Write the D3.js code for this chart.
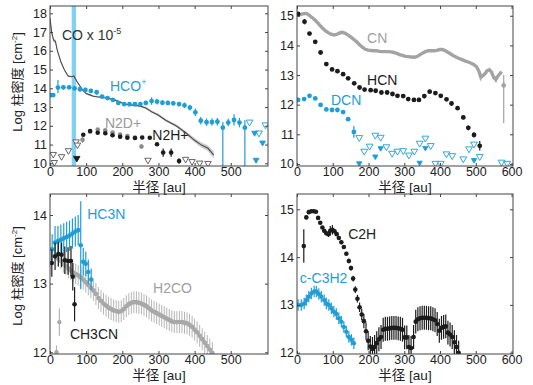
<!DOCTYPE html>
<html>
<head>
<meta charset="utf-8">
<script src="https://cdn.jsdelivr.net/npm/d3@7"></script>
<style>
  body { margin: 0; background: #fff; }
  svg { font-family: "Liberation Sans", Arial, "Noto Sans CJK JP", sans-serif; }
</style>
</head>
<body>
<svg id="chart" width="533" height="385"></svg>
<script>
// ---- data (radius in au, log column density) ----
const coR = [0, 5, 10, 15, 20, 30, 40, 50, 60, 66, 75, 90, 100, 110, 120, 130, 150, 160, 170, 180, 190, 200, 210, 230, 250, 265, 281, 299, 320, 350, 377, 399, 419, 437, 453];
const coV = [17.73, 16.95, 16.57, 16.5, 16.04, 15.42, 14.98, 14.66, 14.62, 14.66, 14.35, 13.91, 13.72, 13.65, 13.58, 13.55, 13.5, 13.48, 13.42, 13.37, 13.3, 13.22, 13.15, 13.1, 13.05, 12.95, 12.75, 12.58, 12.3, 11.99, 11.6, 11.24, 10.97, 10.8, 10.44];
const coErr = [0.12, 0.12, 0.1, 0.1, 0.08, 0.06, 0.05, 0.05, 0.05, 0.05, 0.05, 0.05, 0.05, 0.05, 0.05, 0.05, 0.05, 0.05, 0.05, 0.05, 0.05, 0.05, 0.05, 0.05, 0.05, 0.06, 0.06, 0.07, 0.07, 0.08, 0.1, 0.12, 0.14, 0.16, 0.2];
const coBand = [60, 72];

const hcoR = [4, 9, 22, 37, 53, 68, 83, 98, 113, 129, 144, 159, 174, 189, 205, 220, 235, 250, 265, 281, 296, 311, 326, 341, 357, 372, 387, 402, 417, 433, 448, 463, 478, 493, 509, 524, 539];
const hcoV = [13.64, 13.64, 14.04, 14.05, 14.05, 14.0, 13.95, 13.91, 13.86, 13.79, 13.56, 13.48, 13.38, 13.22, 13.16, 13.15, 13.15, 13.16, 13.22, 13.32, 13.29, 13.23, 13.22, 13.2, 13.16, 13.09, 12.97, 12.72, 12.27, 12.19, 12.2, 12.22, 11.9, 12.17, 12.31, 12.17, 11.9];
const hcoLo = [0.06, 0.06, 0.3, 0.12, 0.1, 0.12, 0.12, 0.12, 0.12, 0.12, 0.1, 0.1, 0.1, 0.08, 0.08, 0.08, 0.08, 0.1, 0.12, 0.2, 0.15, 0.12, 0.12, 0.12, 0.12, 0.15, 0.15, 0.2, 0.2, 0.2, 0.2, 0.2, 3, 0.2, 0.3, 0.25, 3];
const hcoHi = [0.06, 0.06, 0.4, 0.12, 0.1, 0.12, 0.12, 0.12, 0.12, 0.12, 0.1, 0.1, 0.1, 0.08, 0.08, 0.08, 0.08, 0.1, 0.12, 0.2, 0.15, 0.12, 0.12, 0.12, 0.12, 0.15, 0.15, 0.2, 0.2, 0.2, 0.2, 0.2, 0.3, 0.2, 0.3, 0.25, 0.4];
const hcoLimOpenR = [552, 578, 596];
const hcoLimOpenV = [12.2, 11.62, 12.05];
const hcoLimFillR = [566, 588, 570];
const hcoLimFillV = [11.62, 11.1, 10.18];

const n2dR = [90, 111, 132, 153, 173, 194, 214, 235, 253];
const n2dV = [11.25, 11.68, 11.8, 11.76, 11.64, 11.54, 11.46, 11.38, 10.9];
const n2dErr = [0.15, 0.05, 0.05, 0.05, 0.05, 0.05, 0.05, 0.05, 0.12];
const n2hR = [92, 111, 132, 153, 173, 194, 214, 235, 255, 276, 296, 313, 335, 357];
const n2hV = [11.52, 11.72, 11.63, 11.6, 11.5, 11.42, 11.36, 11.35, 11.38, 11.36, 11.02, 10.57, 10.57, 10.12];
const n2hErr = [0.05, 0.05, 0.05, 0.05, 0.05, 0.05, 0.05, 0.05, 0.05, 0.05, 0.05, 0.22, 0.22, 0.15];
const n2hLimR = [9, 12, 32, 51, 72, 76, 271, 375, 393, 414, 437];
const n2hLimV = [10.48, 10.05, 10.36, 10.68, 11.15, 10.98, 10.17, 10.22, 10.1, 10.02, 10.0];
const n2hLimFillR = [74];
const n2hLimFillV = [10.27];

const cnR = [3, 10, 18, 26, 33, 40, 47, 55, 63, 71, 79, 87, 95, 103, 111, 119, 127, 135, 143, 151, 159, 167, 175, 183, 191, 199, 207, 215, 223, 231, 239, 247, 255, 263, 271, 279, 287, 295, 303, 311, 319, 327, 335, 343, 351, 359, 367, 375, 383, 391, 399, 407, 415, 423, 431, 439, 447, 455, 463, 471, 479, 487, 495, 502, 508, 514, 520, 526, 532, 538, 544, 550, 556, 562, 568, 572];
const cnV = [15.02, 15.05, 15.07, 15.08, 15.03, 14.96, 14.89, 14.8, 14.69, 14.59, 14.5, 14.43, 14.38, 14.35, 14.37, 14.42, 14.44, 14.41, 14.35, 14.28, 14.2, 14.12, 14.02, 13.94, 13.87, 13.84, 13.83, 13.82, 13.82, 13.8, 13.79, 13.79, 13.79, 13.78, 13.76, 13.73, 13.69, 13.66, 13.63, 13.62, 13.61, 13.6, 13.62, 13.68, 13.74, 13.79, 13.82, 13.82, 13.82, 13.83, 13.86, 13.86, 13.82, 13.76, 13.7, 13.64, 13.59, 13.55, 13.51, 13.47, 13.44, 13.4, 13.35, 13.28, 13.15, 12.93, 12.98, 13.05, 13.15, 13.18, 13.1, 12.92, 12.85, 12.97, 13.05, 13.12];
const cnLastR = [578];
const cnLastV = [12.65];

const hcnR = [3, 21, 35, 51, 66, 82, 98, 113, 129, 143, 160, 175, 189, 206, 220, 236, 252, 267, 281, 297, 311, 327, 341, 356, 371, 387, 402, 418, 432, 449, 465, 479, 495, 511];
const hcnV = [15.06, 14.8, 14.4, 14.12, 13.76, 13.37, 13.19, 13.13, 13.03, 12.89, 12.72, 12.58, 12.51, 12.49, 12.47, 12.41, 12.41, 12.36, 12.3, 12.29, 12.19, 12.16, 12.16, 12.29, 12.44, 12.39, 12.3, 12.18, 12.04, 11.88, 11.57, 11.22, 10.98, 10.61];
const hcnErr = [0.07, 0.09, 0.03, 0.03, 0.03, 0.03, 0.03, 0.03, 0.03, 0.03, 0.03, 0.04, 0.05, 0.05, 0.05, 0.06, 0.06, 0.06, 0.06, 0.06, 0.06, 0.07, 0.07, 0.07, 0.05, 0.04, 0.04, 0.04, 0.04, 0.05, 0.06, 0.08, 0.09, 0.16];

const dcnR = [3, 20, 35, 51, 66, 82, 98, 113, 129, 143, 159];
const dcnV = [12.16, 12.19, 12.3, 12.21, 11.99, 11.84, 11.82, 11.82, 11.75, 11.51, 11.08];
const dcnErr = [0.04, 0.03, 0.03, 0.03, 0.03, 0.03, 0.03, 0.03, 0.03, 0.04, 0.2];
const dcnLimR = [174, 188, 203, 219, 234, 250, 266, 281, 297, 313, 328, 343, 359, 374, 387, 402, 418, 434, 465, 481, 495, 511, 572, 588];
const dcnLimV = [10.89, 10.43, 10.6, 10.97, 10.9, 10.58, 10.36, 10.43, 10.45, 10.3, 10.43, 10.7, 10.87, 10.62, 10.02, 10.02, 10.34, 10.28, 10.17, 10.51, 10.67, 10.25, 10.06, 10.02];
const dcnLimFillR = [174, 219, 234, 343, 359, 495];
const dcnLimFillV = [10.02, 10.25, 10.53, 10.04, 10.54, 10.13];

const hc3nR = [6, 14, 22, 30, 38, 46, 54, 62, 70, 78, 85, 92, 99, 106, 114];
const hc3nV = [13.5, 13.6, 13.62, 13.64, 13.66, 13.68, 13.7, 13.73, 13.76, 13.78, 13.56, 13.32, 13.29, 13.17, 13.06];
const hc3nErr = [0.22, 0.24, 0.22, 0.22, 0.22, 0.22, 0.22, 0.22, 0.22, 0.22, 0.64, 0.2, 0.18, 0.18, 0.16];

const ch3cnR = [5, 14, 23, 32, 41, 50, 58, 63, 68];
const ch3cnV = [13.3, 13.4, 13.43, 13.42, 13.34, 13.33, 13.33, 13.1, 12.7];
const ch3cnErr = [0.2, 0.2, 0.18, 0.18, 0.2, 0.2, 0.22, 0.2, 0.25];

const h2coLowR = [18, 26];
const h2coLowV = [12.0, 12.44];
const h2coLowErr = [0.1, 0.2];
const h2coR = [23, 30, 37, 44, 51, 58, 64, 71, 78, 85, 92, 99, 106, 113, 120, 127, 134, 141, 148, 155, 162, 169, 176, 183, 190, 197, 204, 211, 218, 225, 232, 239, 246, 253, 260, 267, 274, 281, 288, 295, 302, 309, 316, 323, 330, 337, 344, 351, 358, 365, 372, 379, 386, 393, 400, 407, 414, 421, 428, 435, 442, 449];
const h2coV = [13.36, 13.33, 13.29, 13.26, 13.22, 13.19, 13.16, 13.14, 13.12, 13.09, 13.06, 13.02, 12.98, 12.94, 12.9, 12.85, 12.79, 12.75, 12.71, 12.68, 12.65, 12.63, 12.61, 12.6, 12.59, 12.6, 12.63, 12.67, 12.7, 12.72, 12.73, 12.73, 12.72, 12.71, 12.69, 12.67, 12.64, 12.61, 12.59, 12.57, 12.55, 12.53, 12.51, 12.49, 12.47, 12.45, 12.44, 12.44, 12.44, 12.44, 12.43, 12.42, 12.4, 12.37, 12.33, 12.29, 12.24, 12.19, 12.14, 12.09, 12.04, 11.99];
const h2coErr = [0.12, 0.12, 0.13, 0.13, 0.14, 0.14, 0.14, 0.15, 0.15, 0.15, 0.15, 0.15, 0.15, 0.15, 0.15, 0.16, 0.16, 0.16, 0.16, 0.16, 0.16, 0.16, 0.16, 0.16, 0.16, 0.16, 0.16, 0.16, 0.16, 0.16, 0.16, 0.16, 0.16, 0.16, 0.16, 0.16, 0.16, 0.16, 0.16, 0.16, 0.16, 0.16, 0.16, 0.16, 0.16, 0.16, 0.16, 0.16, 0.16, 0.16, 0.16, 0.16, 0.16, 0.16, 0.16, 0.16, 0.16, 0.16, 0.16, 0.16, 0.16, 0.16];

const c2hR = [19, 26, 33, 40, 47, 53, 59, 65, 71, 76, 82, 88, 93, 99, 105, 111, 117, 124, 131, 138, 145, 151, 157, 163, 169, 175, 181, 187, 193, 199, 205, 211, 217, 223, 229, 235, 241, 247, 253, 259, 265, 271, 277, 283, 289, 295, 301, 307, 313, 319, 326, 332, 338, 344, 350, 356, 362, 368, 374, 380, 386, 392, 398, 404, 410, 416, 422, 428, 434, 440, 446, 452];
const c2hV = [14.23, 14.83, 14.94, 14.96, 14.96, 14.95, 14.82, 14.72, 14.62, 14.55, 14.5, 14.48, 14.55, 14.57, 14.54, 14.48, 14.4, 14.31, 14.21, 14.07, 13.92, 13.77, 13.55, 13.32, 13.13, 12.95, 12.8, 12.66, 12.45, 12.25, 12.13, 12.08, 12.12, 12.2, 12.28, 12.33, 12.48, 12.5, 12.5, 12.51, 12.52, 12.52, 12.52, 12.51, 12.5, 12.48, 12.32, 12.32, 12.12, 12.1, 12.33, 12.65, 12.7, 12.72, 12.73, 12.73, 12.73, 12.72, 12.72, 12.7, 12.68, 12.6, 12.46, 12.52, 12.54, 12.55, 12.42, 12.38, 12.33, 12.22, 12.12, 12.0];
const c2hErr = [0.35, 0.04, 0.03, 0.03, 0.03, 0.03, 0.03, 0.03, 0.03, 0.04, 0.05, 0.06, 0.1, 0.1, 0.05, 0.04, 0.04, 0.04, 0.04, 0.04, 0.05, 0.05, 0.06, 0.07, 0.08, 0.1, 0.12, 0.15, 0.18, 0.2, 0.22, 0.25, 0.25, 0.25, 0.25, 0.25, 0.25, 0.25, 0.25, 0.25, 0.25, 0.25, 0.25, 0.25, 0.25, 0.25, 0.25, 0.25, 0.25, 0.25, 0.25, 0.25, 0.25, 0.25, 0.25, 0.25, 0.25, 0.25, 0.25, 0.25, 0.25, 0.25, 0.25, 0.25, 0.25, 0.25, 0.25, 0.25, 0.25, 0.25, 0.25, 0.25];

const c3h2R = [3, 12, 20, 26, 33, 40, 48, 54, 61, 68, 76, 82, 89, 96, 103, 110, 117, 124, 131, 138, 145, 152, 159];
const c3h2V = [13.0, 13.0, 13.03, 13.1, 13.17, 13.24, 13.28, 13.28, 13.23, 13.17, 13.1, 13.03, 13.0, 12.93, 12.86, 12.81, 12.72, 12.65, 12.54, 12.44, 12.33, 12.27, 12.2];
const c3h2Err = [0.12, 0.12, 0.12, 0.12, 0.12, 0.12, 0.12, 0.12, 0.12, 0.12, 0.12, 0.12, 0.12, 0.12, 0.12, 0.12, 0.12, 0.12, 0.12, 0.12, 0.12, 0.12, 0.12];

const xTicks6 = [0, 100, 200, 300, 400, 500, 600];
const xTicks5 = [0, 100, 200, 300, 400, 500];

// ---- styling ----
const BLUE = '#1f9dd6', GRAY = '#a3a3a3', BLACK = '#1c1c1c', BAND = '#7fd2f3';

const svg = d3.select('#chart');

function makePanel(id, box, xDom, yDom, xTicks, yTicks) {
  const x = d3.scaleLinear().domain(xDom).range([box.left, box.left + box.w]);
  const y = d3.scaleLinear().domain(yDom).range([box.top + box.h, box.top]);
  const g = svg.append('g');
  svg.append('clipPath').attr('id', 'clip' + id)
    .append('rect').attr('x', box.left).attr('y', box.top).attr('width', box.w).attr('height', box.h);
  const data = g.append('g').attr('clip-path', `url(#clip${id})`);

  const style = sel => {
    sel.select('.domain').remove();
    sel.selectAll('line').attr('stroke', '#444');
    sel.selectAll('text').attr('fill', '#222').style('font-size', '12.5px');
  };
  g.append('g').attr('transform', `translate(0,${box.top + box.h})`)
    .call(d3.axisBottom(x).tickValues(xTicks).tickSize(-3).tickPadding(1.5)).call(style);
  g.append('g').attr('transform', `translate(0,${box.top})`)
    .call(d3.axisTop(x).tickValues(xTicks).tickSize(-3).tickFormat('')).call(style);
  g.append('g').attr('transform', `translate(${box.left},0)`)
    .call(d3.axisLeft(y).tickValues(yTicks).tickSize(-3).tickPadding(3).tickFormat(d3.format('d'))).call(style);
  g.append('g').attr('transform', `translate(${box.left + box.w},0)`)
    .call(d3.axisRight(y).tickValues(yTicks).tickSize(-3).tickFormat('')).call(style);
  return { g, data, x, y, box };
}

function errorBars(p, rs, vs, lo, hi, color, w) {
  p.data.append('g').selectAll('line').data(rs).join('line')
    .attr('x1', (d) => p.x(d)).attr('x2', (d) => p.x(d))
    .attr('y1', (d, i) => p.y(vs[i] - lo[i])).attr('y2', (d, i) => p.y(vs[i] + hi[i]))
    .attr('stroke', color).attr('stroke-width', w || 1);
}

function dots(p, rs, vs, color, rad) {
  p.data.append('g').selectAll('circle').data(rs).join('circle')
    .attr('cx', d => p.x(d)).attr('cy', (d, i) => p.y(vs[i]))
    .attr('r', rad).attr('fill', color);
}

function tris(p, rs, vs, color, filled, size) {
  const sym = d3.symbol().type(d3.symbolTriangle).size(size || 22);
  p.data.append('g').selectAll('path').data(rs).join('path')
    .attr('d', sym)
    .attr('transform', (d, i) => `translate(${p.x(d)},${p.y(vs[i])}) rotate(180)`)
    .attr('fill', filled ? color : '#fff').attr('stroke', color).attr('stroke-width', 0.9);
}

function label(p, r, v, text, color, sup) {
  const t = p.g.append('text').attr('x', p.x(r)).attr('y', p.y(v))
    .attr('fill', color).style('font-size', '14px').text(text);
  if (sup) t.append('tspan').attr('dy', -6).style('font-size', '9px').text(sup);
}

function frame(p) {
  p.g.append('rect').attr('x', p.box.left).attr('y', p.box.top)
    .attr('width', p.box.w).attr('height', p.box.h)
    .attr('fill', 'none').attr('stroke', '#444').attr('stroke-width', 1);
}

function xTitle(p, yPos) {
  p.g.append('text').attr('x', p.box.left + p.box.w / 2).attr('y', yPos)
    .attr('text-anchor', 'middle').attr('fill', '#222').style('font-size', '13.5px')
    .text('半径 [au]');
}

function yTitle(p, cy) {
  const t = p.g.append('text').attr('transform', `translate(22,${cy}) rotate(-90)`)
    .attr('text-anchor', 'middle').attr('fill', '#222').style('font-size', '13px');
  t.append('tspan').text('Log 柱密度 [cm');
  t.append('tspan').attr('dy', -5).style('font-size', '8px').text('-2');
  t.append('tspan').attr('dy', 5).text(']');
}

// ---- panel 1: CO, HCO+, N2D+, N2H+ ----
const p1 = makePanel(1, { left: 50, top: 6, w: 218, h: 160 }, [0, 603], [9.856, 18.39], xTicks5, d3.range(10, 19));
p1.data.append('rect').attr('x', p1.x(coBand[0])).attr('width', p1.x(coBand[1]) - p1.x(coBand[0]))
  .attr('y', p1.box.top).attr('height', p1.box.h).attr('fill', BAND);
p1.data.append('path').datum(coR)
  .attr('d', d3.area().x(d => p1.x(d)).y0((d, i) => p1.y(coV[i] - coErr[i])).y1((d, i) => p1.y(coV[i] + coErr[i])))
  .attr('fill', '#cfcfcf');
p1.data.append('path').datum(coR)
  .attr('d', d3.line().x(d => p1.x(d)).y((d, i) => p1.y(coV[i])))
  .attr('fill', 'none').attr('stroke', '#4a4a4a').attr('stroke-width', 1.1);
tris(p1, n2hLimR, n2hLimV, '#555', false, 18);
tris(p1, n2hLimFillR, n2hLimFillV, BLACK, true, 18);
errorBars(p1, n2dR, n2dV, n2dErr, n2dErr, '#888', 1.2);
dots(p1, n2dR, n2dV, '#8c8c8c', 2.3);
errorBars(p1, n2hR, n2hV, n2hErr, n2hErr, BLACK, 1.2);
dots(p1, n2hR, n2hV, BLACK, 2.3);
errorBars(p1, hcoR, hcoV, hcoLo, hcoHi, BLUE, 1.2);
dots(p1, hcoR, hcoV, BLUE, 2.4);
tris(p1, hcoLimOpenR, hcoLimOpenV, BLUE, false, 20);
tris(p1, hcoLimFillR, hcoLimFillV, BLUE, true, 14);
frame(p1);
label(p1, 33, 16.6, 'CO x 10', '#333', '-5');
label(p1, 166, 13.86, 'HCO', BLUE, '+');
label(p1, 152, 11.88, 'N2D+', '#999');
label(p1, 283, 11.24, 'N2H+', BLACK);
xTitle(p1, 192);
yTitle(p1, 82);

// ---- panel 2: CN, HCN, DCN ----
const p2 = makePanel(2, { left: 297, top: 6, w: 216, h: 160 }, [0, 604], [9.93, 15.33], xTicks6, d3.range(10, 16));
p2.data.append('path').datum(cnR)
  .attr('d', d3.line().x(d => p2.x(d)).y((d, i) => p2.y(cnV[i])))
  .attr('fill', 'none').attr('stroke', GRAY).attr('stroke-width', 3.4);
errorBars(p2, [514, 556], [12.93, 12.85], [0.12, 0.1], [0.12, 0.1], GRAY, 1.2);
errorBars(p2, cnLastR, cnLastV, [1.28], [0.35], GRAY, 1.2);
dots(p2, cnLastR, cnLastV, GRAY, 2.3);
errorBars(p2, hcnR, hcnV, hcnErr, hcnErr, BLACK, 1.2);
dots(p2, hcnR, hcnV, BLACK, 2.4);
errorBars(p2, dcnR, dcnV, dcnErr, dcnErr, BLUE, 1.2);
dots(p2, dcnR, dcnV, BLUE, 2.4);
tris(p2, dcnLimR, dcnLimV, BLUE, false, 20);
tris(p2, dcnLimFillR, dcnLimFillV, BLUE, true, 12);
frame(p2);
label(p2, 196, 14.08, 'CN', '#a0a0a0');
label(p2, 196, 12.66, 'HCN', BLACK);
label(p2, 95, 11.99, 'DCN', BLUE);
xTitle(p2, 192);

// ---- panel 3: HC3N, CH3CN, H2CO ----
const p3 = makePanel(3, { left: 50, top: 194, w: 218, h: 160 }, [0, 603], [11.975, 14.306], xTicks5, [12, 13, 14]);
errorBars(p3, h2coR, h2coV, h2coErr, h2coErr, '#b5b5b5', 1);
errorBars(p3, h2coLowR, h2coLowV, h2coLowErr, h2coLowErr, '#b5b5b5', 1.2);
dots(p3, h2coR, h2coV, '#a8a8a8', 2.4);
dots(p3, h2coLowR, h2coLowV, '#a8a8a8', 2.2);
errorBars(p3, hc3nR, hc3nV, hc3nErr, hc3nErr, BLUE, 1.2);
dots(p3, hc3nR, hc3nV, BLUE, 2.3);
errorBars(p3, ch3cnR, ch3cnV, ch3cnErr, ch3cnErr, BLACK, 1.2);
dots(p3, ch3cnR, ch3cnV, BLACK, 2.3);
frame(p3);
label(p3, 103, 13.94, 'HC3N', BLUE);
label(p3, 285, 12.86, 'H2CO', '#a0a0a0');
label(p3, 55, 12.2, 'CH3CN', BLACK);
xTitle(p3, 380);
yTitle(p3, 276);

// ---- panel 4: C2H, c-C3H2 ----
const p4 = makePanel(4, { left: 297, top: 194, w: 216, h: 160 }, [0, 604], [11.973, 15.32], xTicks6, [12, 13, 14, 15]);
errorBars(p4, c3h2R, c3h2V, c3h2Err, c3h2Err, BLUE, 1.2);
dots(p4, c3h2R, c3h2V, BLUE, 2.2);
errorBars(p4, c2hR, c2hV, c2hErr, c2hErr, BLACK, 1.2);
dots(p4, c2hR, c2hV, BLACK, 2.3);
frame(p4);
label(p4, 143, 14.38, 'C2H', '#222');
label(p4, 8, 13.45, 'c-C3H2', BLUE);
xTitle(p4, 380);
</script>
</body>
</html>
